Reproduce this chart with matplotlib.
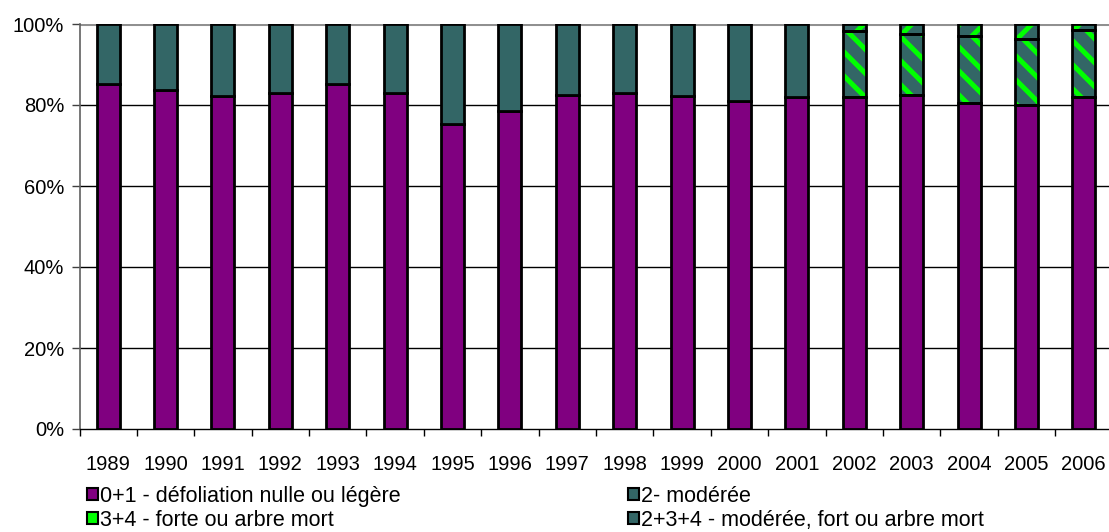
import matplotlib
matplotlib.use("Agg")
import matplotlib.pyplot as plt
import numpy as np
from matplotlib.patches import Patch

DPI = 72
K = 100 / DPI  # keep sizes as if at 100 dpi

plt.rcParams['font.family'] = ['Liberation Sans', 'DejaVu Sans']
plt.rcParams['hatch.linewidth'] = 5.0

years = ['1989', '1990', '1991', '1992', '1993', '1994', '1995', '1996', '1997',
         '1998', '1999', '2000', '2001', '2002', '2003', '2004', '2005', '2006']
# 0+1 - défoliation nulle ou légère (%)
s01 = [85.2, 83.7, 82.1, 83.0, 85.1, 83.0, 75.3, 78.6, 82.5,
       82.9, 82.2, 81.0, 82.0, 82.0, 82.5, 80.5, 79.9, 82.0]
# 2- modérée (%), only 2002-2006
s2 = [0, 0, 0, 0, 0, 0, 0, 0, 0, 0, 0, 0, 0, 16.3, 15.1, 16.5, 16.5, 16.4]
# 3+4 - forte ou arbre mort (%), only 2002-2006
s34 = [0, 0, 0, 0, 0, 0, 0, 0, 0, 0, 0, 0, 0, 1.7, 2.4, 3.0, 3.6, 1.6]
# 2+3+4 - modérée, fort ou arbre mort (%), 1989-2001
s234 = [14.8, 16.3, 17.9, 17.0, 14.9, 17.0, 24.7, 21.4, 17.5,
        17.1, 17.8, 19.0, 18.0, 0, 0, 0, 0, 0]

yticks = [0, 20, 40, 60, 80, 100]
ytick_labels = ['0%', '20%', '40%', '60%', '80%', '100%']
labels = ['0+1 - défoliation nulle ou légère', '2- modérée',
          '3+4 - forte ou arbre mort', '2+3+4 - modérée, fort ou arbre mort']

PURPLE = '#800080'
TEAL = '#336666'
GREEN = '#00FF00'

W, H = 1109, 532
fig = plt.figure(figsize=(W / DPI, H / DPI), dpi=DPI)
ax = fig.add_axes([79.5 / W, 103 / H, 1033 / W, 405 / H])

x = np.arange(len(years))
bw = 0.40
a01 = np.array(s01)
a2 = np.array(s2)
a34 = np.array(s34)
a234 = np.array(s234)

# gridlines
for v in yticks[1:-1]:
    ax.axhline(v, color='black', lw=1.0 * K, zorder=0)
ax.axhline(100, color='#909090', lw=2.2 * K, zorder=0)

edge_kw = dict(edgecolor='black', linewidth=2.0 * K, zorder=3)
# 0+1
ax.bar(x, a01, bw, color=PURPLE, **edge_kw)
# 2+3+4
m = a234 > 0
ax.bar(x[m], a234[m], bw, bottom=a01[m], color=TEAL, **edge_kw)
# 2 (hatched)
m2 = a2 > 0
ax.bar(x[m2], a2[m2], bw, bottom=a01[m2], color=TEAL, hatch='\\',
       edgecolor=GREEN, linewidth=0, zorder=2)
ax.bar(x[m2], a2[m2], bw, bottom=a01[m2], fill=False, **edge_kw)
# 3+4 (hatched)
ax.bar(x[m2], a34[m2], bw, bottom=(a01 + a2)[m2], color=TEAL, hatch='/',
       edgecolor=GREEN, linewidth=0, zorder=2)
ax.bar(x[m2], a34[m2], bw, bottom=(a01 + a2)[m2], fill=False, **edge_kw)

ax.set_xlim(-0.5, len(years) - 0.5)
ax.set_ylim(0, 100)
ax.set_yticks(yticks)
ax.set_yticklabels(ytick_labels)
ax.set_xticks(np.arange(len(years) + 1) - 0.5)
ax.set_xticklabels([])
ax.set_xticks(x, minor=True)
ax.set_xticklabels(years, minor=True)
ax.tick_params(axis='x', which='major', direction='out', length=5 * K, width=1 * K, color='black')
ax.tick_params(axis='x', which='minor', length=0, pad=19 * K, labelsize=14.5 * K)
ax.tick_params(axis='y', direction='out', length=6 * K, width=1 * K, color='#404040',
               pad=5 * K, labelsize=14.5 * K)

for s in ['top', 'right']:
    ax.spines[s].set_visible(False)
ax.spines['left'].set_color('#606060')
ax.spines['left'].set_linewidth(1.2 * K)
ax.spines['bottom'].set_color('black')
ax.spines['bottom'].set_linewidth(1.0 * K)

h01 = Patch(facecolor=PURPLE, edgecolor='black', linewidth=1.5 * K)
h2 = Patch(facecolor=TEAL, edgecolor='black', linewidth=1.5 * K)
h34 = Patch(facecolor=GREEN, edgecolor='black', linewidth=1.5 * K)
h234 = Patch(facecolor=TEAL, edgecolor='black', linewidth=1.5 * K)
fig.legend([h01, h34, h2, h234], [labels[0], labels[2], labels[1], labels[3]],
           ncol=2, loc='upper left', bbox_to_anchor=(87 / W, 1 - 486 / H),
           frameon=False, fontsize=15.5 * K, handlelength=0.5, handleheight=0.5,
           handletextpad=0.12, columnspacing=10.55, labelspacing=0.12,
           borderpad=0, borderaxespad=0)

fig.savefig('out.png', dpi=DPI)
